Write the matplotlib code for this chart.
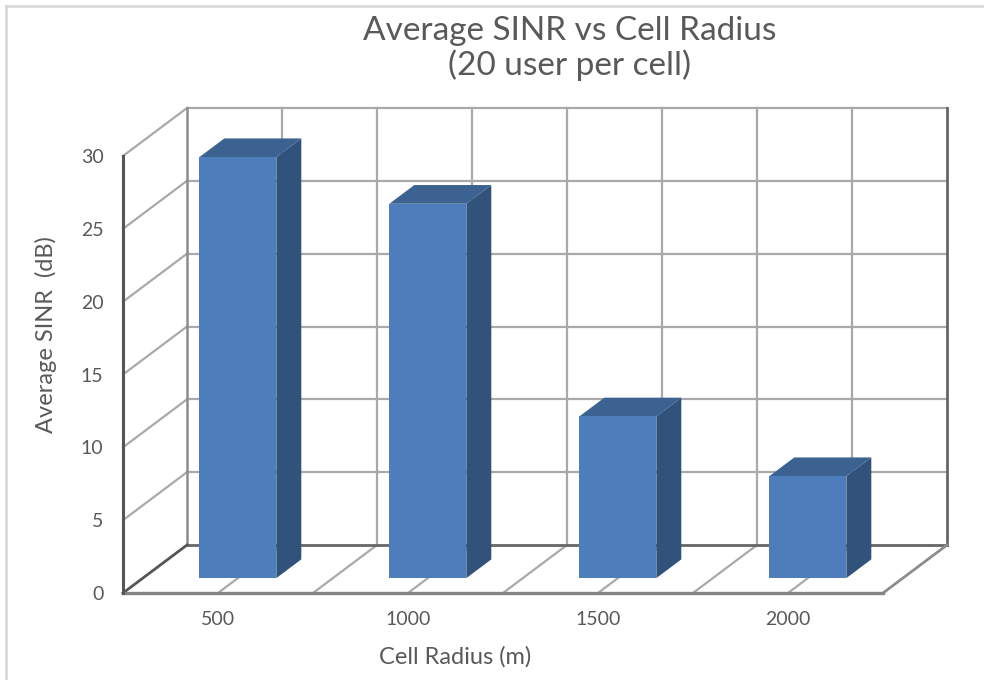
import matplotlib
matplotlib.use("Agg")
import matplotlib.pyplot as plt
from matplotlib.patches import Polygon, Rectangle

plt.rcParams['font.family'] = ['Lato', 'DejaVu Sans']

categories = ['500', '1000', '1500', '2000']
sinr_db = [28.9, 25.7, 11.1, 7.0]
y_ticks = [0, 5, 10, 15, 20, 25, 30]

W, H = 984, 680
L, R, B, T = 123, 883, 593, 156     # front plane of the chart box, pixels
fig = plt.figure(figsize=(W / 100, H / 100), dpi=100, facecolor='white')
ax = fig.add_axes([L / W, 1 - B / H, (R - L) / W, (B - T) / H])
ax.set_xlim(0, len(categories))
ax.set_ylim(0, 30)
ax.patch.set_visible(False)
for s in ('top', 'right', 'left', 'bottom'):
    ax.spines[s].set_visible(False)

DX = 64 / 190      # depth offset in category units
DY = 48 / (437 / 30)   # depth offset in value units
n = len(categories)
GRID = '#a9a9a9'
DARK = '#666666'
DARKER = '#555555'


def line(xs, ys, color=GRID, lw=1.6, z=1):
    ax.plot(xs, ys, color=color, lw=lw, clip_on=False, zorder=z, solid_capstyle='projecting')


# back wall and left wall gridlines
for v in y_ticks[1:]:
    line([DX, n + DX], [v + DY, v + DY])
    line([0, DX], [v, v + DY])
for i in range(1, 2 * n):
    x = i / 2
    line([x + DX, x + DX], [DY, 30 + DY])
for i in range(1, 2 * n):
    x = i / 2
    line([x, x + DX], [0, DY])
line([DX, DX], [DY, 30 + DY], color='#8c8c8c', lw=1.8)
line([n + DX, n + DX], [DY, 30 + DY], color=DARK, lw=2)
line([DX, n + DX], [DY, DY], color=DARK, lw=2)
line([n, n + DX], [0, DY], color='#8c8c8c', lw=2)
line([0, DX], [0, DY], color=DARKER, lw=2, z=2)
line([0, n], [0, 0], color='#858585', lw=2.4, z=2)
line([0, 0], [0, 30], color=DARKER, lw=2.2, z=2)

# bars
BW = 77 / 190
F0, F1 = 0.31, 0.70
for i, v in enumerate(sinr_db):
    x0 = i + 0.5 + F0 * DX - BW / 2
    x1 = x0 + BW
    y0 = F0 * DY
    y1 = y0 + v
    ox = (F1 - F0) * DX
    oy = (F1 - F0) * DY
    ax.add_patch(Polygon([(x1, y0), (x1 + ox, y0 + oy), (x1 + ox, y1 + oy), (x1, y1)],
                         fc='#31527a', ec='none', clip_on=False, zorder=3))
    ax.add_patch(Polygon([(x0, y1), (x1, y1), (x1 + ox, y1 + oy), (x0 + ox, y1 + oy)],
                         fc='#3b6291', ec='none', clip_on=False, zorder=3))
    ax.add_patch(Rectangle((x0, y0), BW, v, fc='#4d7ebb', ec='none', clip_on=False, zorder=4))

# axes text
ax.set_yticks(y_ticks)
ax.set_xticks([i + 0.5 for i in range(n)])
ax.set_xticklabels(categories)
ax.tick_params(axis='y', length=0, pad=14, labelsize=14, labelcolor='#595959')
ax.tick_params(axis='x', length=0, pad=13, labelsize=14, labelcolor='#595959')
ax.set_xlabel('Cell Radius (m)', fontsize=17, color='#595959')
ax.xaxis.set_label_coords((455 - L) / (R - L), (B - 657) / (B - T), transform=ax.transAxes)
ax.xaxis.label.set_verticalalignment('center')
ax.set_ylabel('Average SINR  (dB)', fontsize=17, color='#595959')
ax.yaxis.set_label_coords((46 - L) / (R - L), (B - 335) / (B - T), transform=ax.transAxes)
ax.yaxis.label.set_verticalalignment('center')
ax.set_title('Average SINR vs Cell Radius\n(20 user per cell)', fontsize=24, color='#595959',
             x=(570 - L) / (R - L), y=(B - 57) / (B - T), va='center', linespacing=1.15)

# outer frame of the chart area
fig.add_artist(plt.Line2D([6 / W, 6 / W], [0, 1 - 6 / H], color='#d9d9d9', lw=2))
fig.add_artist(plt.Line2D([6 / W, 1], [1 - 6 / H, 1 - 6 / H], color='#d9d9d9', lw=2))

fig.savefig('out.png', dpi=100, facecolor='white')
